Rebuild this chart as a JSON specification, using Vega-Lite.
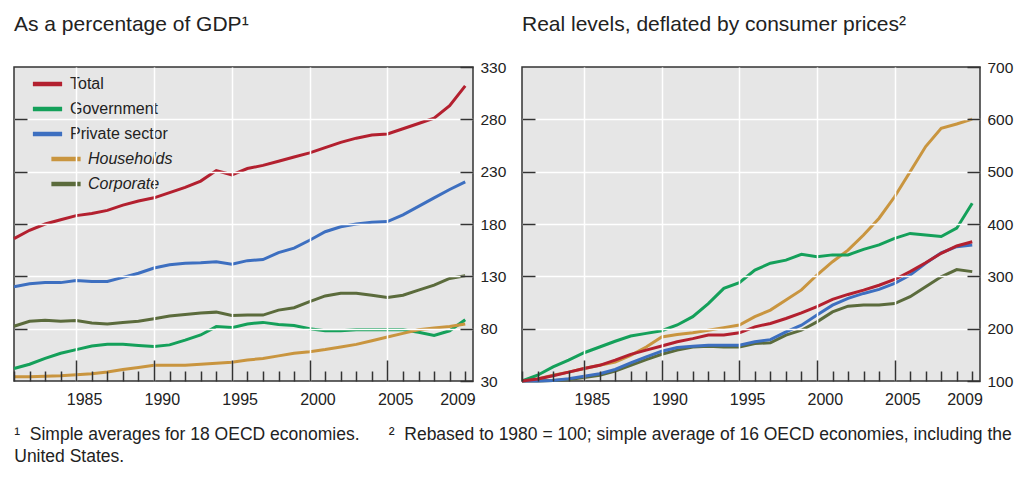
{
  "$schema": "https://vega.github.io/schema/vega-lite/v6.json",
  "padding": {"left": 7, "top": 13, "right": 4, "bottom": 4},
  "bounds": "flush",
  "spacing": 49,
  "config": {
    "font": "Liberation Sans",
    "view": {"fill": "#e6e6e6", "stroke": "#333333", "strokeWidth": 1.5},
    "axis": {"labelFont": "Liberation Sans", "labelFontSize": 15.5, "labelColor": "#222222", "domain": false, "tickColor": "#333333", "tickOpacity": 1, "tickWidth": 1.5, "gridColor": "#ffffff", "gridWidth": 1.5, "title": null},
    "title": {"font": "Liberation Sans", "fontWeight": "normal", "color": "#222222"}
  },
  "title": {
    "text": ["¹\u00a0\u00a0Simple averages for 18 OECD economies.\u00a0\u00a0\u00a0\u00a0\u00a0\u00a0²\u00a0\u00a0Rebased to 1980 = 100; simple average of 16 OECD economies, including the", "United States."],
    "orient": "bottom", "anchor": "start", "fontSize": 17.5, "lineHeight": 22, "offset": 18, "dx": 7
  },
  "resolve": {"scale": {"color": "independent"}},
  "datasets": {
    "gdp": [
      {"t":1981,"s":"Total","v":166},{"t":1982,"s":"Total","v":174},{"t":1983,"s":"Total","v":180},{"t":1984,"s":"Total","v":184},{"t":1985,"s":"Total","v":188},{"t":1986,"s":"Total","v":190},{"t":1987,"s":"Total","v":193},{"t":1988,"s":"Total","v":198},{"t":1989,"s":"Total","v":202},{"t":1990,"s":"Total","v":205},{"t":1991,"s":"Total","v":210},{"t":1992,"s":"Total","v":215},{"t":1993,"s":"Total","v":221},{"t":1994,"s":"Total","v":231},{"t":1995,"s":"Total","v":227},{"t":1996,"s":"Total","v":233},{"t":1997,"s":"Total","v":236},{"t":1998,"s":"Total","v":240},{"t":1999,"s":"Total","v":244},{"t":2000,"s":"Total","v":248},{"t":2001,"s":"Total","v":253},{"t":2002,"s":"Total","v":258},{"t":2003,"s":"Total","v":262},{"t":2004,"s":"Total","v":265},{"t":2005,"s":"Total","v":266},{"t":2006,"s":"Total","v":271},{"t":2007,"s":"Total","v":276},{"t":2008,"s":"Total","v":281},{"t":2009,"s":"Total","v":293},{"t":2010,"s":"Total","v":312},
      {"t":1981,"s":"Government","v":42},{"t":1982,"s":"Government","v":46},{"t":1983,"s":"Government","v":51.6},{"t":1984,"s":"Government","v":56.5},{"t":1985,"s":"Government","v":60},{"t":1986,"s":"Government","v":63.5},{"t":1987,"s":"Government","v":65},{"t":1988,"s":"Government","v":65},{"t":1989,"s":"Government","v":64},{"t":1990,"s":"Government","v":63},{"t":1991,"s":"Government","v":64.5},{"t":1992,"s":"Government","v":69},{"t":1993,"s":"Government","v":74},{"t":1994,"s":"Government","v":82},{"t":1995,"s":"Government","v":81},{"t":1996,"s":"Government","v":84.5},{"t":1997,"s":"Government","v":86},{"t":1998,"s":"Government","v":84},{"t":1999,"s":"Government","v":83},{"t":2000,"s":"Government","v":80},{"t":2001,"s":"Government","v":78},{"t":2002,"s":"Government","v":78},{"t":2003,"s":"Government","v":79},{"t":2004,"s":"Government","v":79},{"t":2005,"s":"Government","v":79},{"t":2006,"s":"Government","v":79},{"t":2007,"s":"Government","v":76.5},{"t":2008,"s":"Government","v":73.5},{"t":2009,"s":"Government","v":78},{"t":2010,"s":"Government","v":88.5},
      {"t":1981,"s":"Private sector","v":120},{"t":1982,"s":"Private sector","v":123},{"t":1983,"s":"Private sector","v":124},{"t":1984,"s":"Private sector","v":124},{"t":1985,"s":"Private sector","v":126},{"t":1986,"s":"Private sector","v":125},{"t":1987,"s":"Private sector","v":125},{"t":1988,"s":"Private sector","v":129},{"t":1989,"s":"Private sector","v":133},{"t":1990,"s":"Private sector","v":138},{"t":1991,"s":"Private sector","v":141},{"t":1992,"s":"Private sector","v":142.5},{"t":1993,"s":"Private sector","v":143},{"t":1994,"s":"Private sector","v":144},{"t":1995,"s":"Private sector","v":141.6},{"t":1996,"s":"Private sector","v":145},{"t":1997,"s":"Private sector","v":146},{"t":1998,"s":"Private sector","v":152.6},{"t":1999,"s":"Private sector","v":157},{"t":2000,"s":"Private sector","v":164.5},{"t":2001,"s":"Private sector","v":172.6},{"t":2002,"s":"Private sector","v":177.4},{"t":2003,"s":"Private sector","v":180},{"t":2004,"s":"Private sector","v":181.6},{"t":2005,"s":"Private sector","v":182.3},{"t":2006,"s":"Private sector","v":188.7},{"t":2007,"s":"Private sector","v":196.8},{"t":2008,"s":"Private sector","v":205},{"t":2009,"s":"Private sector","v":213},{"t":2010,"s":"Private sector","v":220.3},
      {"t":1981,"s":"Households","v":34},{"t":1982,"s":"Households","v":34},{"t":1983,"s":"Households","v":34.5},{"t":1984,"s":"Households","v":35},{"t":1985,"s":"Households","v":36},{"t":1986,"s":"Households","v":37},{"t":1987,"s":"Households","v":38.7},{"t":1988,"s":"Households","v":41},{"t":1989,"s":"Households","v":43},{"t":1990,"s":"Households","v":45},{"t":1991,"s":"Households","v":45},{"t":1992,"s":"Households","v":45},{"t":1993,"s":"Households","v":46},{"t":1994,"s":"Households","v":47},{"t":1995,"s":"Households","v":48},{"t":1996,"s":"Households","v":50},{"t":1997,"s":"Households","v":51.6},{"t":1998,"s":"Households","v":54},{"t":1999,"s":"Households","v":56.5},{"t":2000,"s":"Households","v":58},{"t":2001,"s":"Households","v":60},{"t":2002,"s":"Households","v":62.5},{"t":2003,"s":"Households","v":65},{"t":2004,"s":"Households","v":68.5},{"t":2005,"s":"Households","v":72},{"t":2006,"s":"Households","v":75.5},{"t":2007,"s":"Households","v":79},{"t":2008,"s":"Households","v":80.6},{"t":2009,"s":"Households","v":82},{"t":2010,"s":"Households","v":84.5},
      {"t":1981,"s":"Corporate","v":82.3},{"t":1982,"s":"Corporate","v":87},{"t":1983,"s":"Corporate","v":88},{"t":1984,"s":"Corporate","v":87},{"t":1985,"s":"Corporate","v":87.7},{"t":1986,"s":"Corporate","v":85.5},{"t":1987,"s":"Corporate","v":84.5},{"t":1988,"s":"Corporate","v":86},{"t":1989,"s":"Corporate","v":87},{"t":1990,"s":"Corporate","v":89.4},{"t":1991,"s":"Corporate","v":92},{"t":1992,"s":"Corporate","v":93.5},{"t":1993,"s":"Corporate","v":95},{"t":1994,"s":"Corporate","v":95.8},{"t":1995,"s":"Corporate","v":92.6},{"t":1996,"s":"Corporate","v":93},{"t":1997,"s":"Corporate","v":93},{"t":1998,"s":"Corporate","v":97.7},{"t":1999,"s":"Corporate","v":100},{"t":2000,"s":"Corporate","v":105.8},{"t":2001,"s":"Corporate","v":111.3},{"t":2002,"s":"Corporate","v":113.9},{"t":2003,"s":"Corporate","v":113.9},{"t":2004,"s":"Corporate","v":112},{"t":2005,"s":"Corporate","v":109.7},{"t":2006,"s":"Corporate","v":112},{"t":2007,"s":"Corporate","v":116.8},{"t":2008,"s":"Corporate","v":121.6},{"t":2009,"s":"Corporate","v":128},{"t":2010,"s":"Corporate","v":130.6}
    ],
    "real": [
      {"t":1981,"s":"Corporate","v":100},{"t":1982,"s":"Corporate","v":100},{"t":1983,"s":"Corporate","v":101},{"t":1984,"s":"Corporate","v":103},{"t":1985,"s":"Corporate","v":106.5},{"t":1986,"s":"Corporate","v":111},{"t":1987,"s":"Corporate","v":119},{"t":1988,"s":"Corporate","v":130},{"t":1989,"s":"Corporate","v":141},{"t":1990,"s":"Corporate","v":151},{"t":1991,"s":"Corporate","v":159},{"t":1992,"s":"Corporate","v":165},{"t":1993,"s":"Corporate","v":166.5},{"t":1994,"s":"Corporate","v":165},{"t":1995,"s":"Corporate","v":165},{"t":1996,"s":"Corporate","v":171.6},{"t":1997,"s":"Corporate","v":173},{"t":1998,"s":"Corporate","v":187.6},{"t":1999,"s":"Corporate","v":197},{"t":2000,"s":"Corporate","v":213},{"t":2001,"s":"Corporate","v":232},{"t":2002,"s":"Corporate","v":243},{"t":2003,"s":"Corporate","v":245},{"t":2004,"s":"Corporate","v":245},{"t":2005,"s":"Corporate","v":248},{"t":2006,"s":"Corporate","v":261},{"t":2007,"s":"Corporate","v":280},{"t":2008,"s":"Corporate","v":299},{"t":2009,"s":"Corporate","v":313},{"t":2010,"s":"Corporate","v":309},
      {"t":1981,"s":"Households","v":100},{"t":1982,"s":"Households","v":104},{"t":1983,"s":"Households","v":111},{"t":1984,"s":"Households","v":117},{"t":1985,"s":"Households","v":124},{"t":1986,"s":"Households","v":130},{"t":1987,"s":"Households","v":136},{"t":1988,"s":"Households","v":149},{"t":1989,"s":"Households","v":165},{"t":1990,"s":"Households","v":184},{"t":1991,"s":"Households","v":189},{"t":1992,"s":"Households","v":192},{"t":1993,"s":"Households","v":197},{"t":1994,"s":"Households","v":202},{"t":1995,"s":"Households","v":207},{"t":1996,"s":"Households","v":223},{"t":1997,"s":"Households","v":235.5},{"t":1998,"s":"Households","v":255},{"t":1999,"s":"Households","v":274},{"t":2000,"s":"Households","v":302.5},{"t":2001,"s":"Households","v":328},{"t":2002,"s":"Households","v":350},{"t":2003,"s":"Households","v":379},{"t":2004,"s":"Households","v":411},{"t":2005,"s":"Households","v":452},{"t":2006,"s":"Households","v":500},{"t":2007,"s":"Households","v":548},{"t":2008,"s":"Households","v":583},{"t":2009,"s":"Households","v":591},{"t":2010,"s":"Households","v":600.5},
      {"t":1981,"s":"Private sector","v":100},{"t":1982,"s":"Private sector","v":100},{"t":1983,"s":"Private sector","v":101},{"t":1984,"s":"Private sector","v":104.5},{"t":1985,"s":"Private sector","v":109},{"t":1986,"s":"Private sector","v":114},{"t":1987,"s":"Private sector","v":122},{"t":1988,"s":"Private sector","v":134.5},{"t":1989,"s":"Private sector","v":146},{"t":1990,"s":"Private sector","v":157},{"t":1991,"s":"Private sector","v":164},{"t":1992,"s":"Private sector","v":166.5},{"t":1993,"s":"Private sector","v":168.4},{"t":1994,"s":"Private sector","v":168.4},{"t":1995,"s":"Private sector","v":168.4},{"t":1996,"s":"Private sector","v":175},{"t":1997,"s":"Private sector","v":179},{"t":1998,"s":"Private sector","v":194},{"t":1999,"s":"Private sector","v":206.7},{"t":2000,"s":"Private sector","v":226},{"t":2001,"s":"Private sector","v":245},{"t":2002,"s":"Private sector","v":257.8},{"t":2003,"s":"Private sector","v":267.3},{"t":2004,"s":"Private sector","v":275},{"t":2005,"s":"Private sector","v":286.5},{"t":2006,"s":"Private sector","v":302.4},{"t":2007,"s":"Private sector","v":325},{"t":2008,"s":"Private sector","v":345},{"t":2009,"s":"Private sector","v":356.7},{"t":2010,"s":"Private sector","v":360},
      {"t":1981,"s":"Government","v":100},{"t":1982,"s":"Government","v":111},{"t":1983,"s":"Government","v":127},{"t":1984,"s":"Government","v":140},{"t":1985,"s":"Government","v":154},{"t":1986,"s":"Government","v":165},{"t":1987,"s":"Government","v":176},{"t":1988,"s":"Government","v":186},{"t":1989,"s":"Government","v":191},{"t":1990,"s":"Government","v":196},{"t":1991,"s":"Government","v":207},{"t":1992,"s":"Government","v":223},{"t":1993,"s":"Government","v":248},{"t":1994,"s":"Government","v":277},{"t":1995,"s":"Government","v":288},{"t":1996,"s":"Government","v":312},{"t":1997,"s":"Government","v":325},{"t":1998,"s":"Government","v":331},{"t":1999,"s":"Government","v":342},{"t":2000,"s":"Government","v":337.5},{"t":2001,"s":"Government","v":341},{"t":2002,"s":"Government","v":341},{"t":2003,"s":"Government","v":351.5},{"t":2004,"s":"Government","v":360},{"t":2005,"s":"Government","v":372.6},{"t":2006,"s":"Government","v":382},{"t":2007,"s":"Government","v":379},{"t":2008,"s":"Government","v":376},{"t":2009,"s":"Government","v":392},{"t":2010,"s":"Government","v":439.6},
      {"t":1981,"s":"Total","v":100},{"t":1982,"s":"Total","v":104},{"t":1983,"s":"Total","v":110},{"t":1984,"s":"Total","v":117},{"t":1985,"s":"Total","v":124},{"t":1986,"s":"Total","v":130},{"t":1987,"s":"Total","v":140},{"t":1988,"s":"Total","v":151},{"t":1989,"s":"Total","v":159},{"t":1990,"s":"Total","v":167},{"t":1991,"s":"Total","v":175},{"t":1992,"s":"Total","v":181},{"t":1993,"s":"Total","v":188},{"t":1994,"s":"Total","v":188},{"t":1995,"s":"Total","v":192},{"t":1996,"s":"Total","v":203.5},{"t":1997,"s":"Total","v":210},{"t":1998,"s":"Total","v":219.5},{"t":1999,"s":"Total","v":230},{"t":2000,"s":"Total","v":242},{"t":2001,"s":"Total","v":256},{"t":2002,"s":"Total","v":265.4},{"t":2003,"s":"Total","v":273.7},{"t":2004,"s":"Total","v":283},{"t":2005,"s":"Total","v":294},{"t":2006,"s":"Total","v":309},{"t":2007,"s":"Total","v":326},{"t":2008,"s":"Total","v":344},{"t":2009,"s":"Total","v":358},{"t":2010,"s":"Total","v":366}
    ]
  },
  "hconcat": [
    {
      "width": 459, "height": 314,
      "title": {"text": "As a percentage of GDP¹", "anchor": "start", "frame": "group", "fontSize": 21, "offset": 25},
      "data": {"name": "gdp"},
      "layer": [
        {
          "mark": {"type": "line", "strokeWidth": 3},
          "encoding": {
            "x": {"field": "t", "type": "quantitative", "scale": {"domain": [1981, 2010.5], "nice": false, "zero": false},
                  "axis": {"orient": "bottom", "zindex": 1, "values": [1981, 1982, 1983, 1984, 1985, 1986, 1987, 1988, 1989, 1990, 1991, 1992, 1993, 1994, 1995, 1996, 1997, 1998, 1999, 2000, 2001, 2002, 2003, 2004, 2005, 2006, 2007, 2008, 2009, 2010],
                           "labelExpr": "indexof([1985, 1990, 1995, 2000, 2005, 2009], datum.value) >= 0 ? '' + datum.value : ''",
                           "labelOffset": 7.8, "labelFontSize": 16, "labelOverlap": false, "labelFlush": false, "labelBound": false,
                           "tickSize": {"condition": {"test": "datum.value % 5 === 0 && datum.value < 2010", "value": -21}, "value": -10},
                           "labelPadding": {"condition": {"test": "datum.value % 5 === 0 && datum.value < 2010", "value": 31}, "value": 20},
                           "grid": true,
                           "gridOpacity": {"condition": {"test": "datum.value % 5 === 0 && datum.value < 2010", "value": 1}, "value": 0}}},
            "y": {"field": "v", "type": "quantitative", "scale": {"domain": [30, 330], "nice": false, "zero": false},
                  "axis": {"orient": "right", "zindex": 1, "values": [30, 80, 130, 180, 230, 280, 330], "tickSize": -13, "labelPadding": 20, "labelFlush": false, "labelOverlap": false,
                           "grid": true, "gridOpacity": {"condition": {"test": "datum.value > 30 && datum.value < 330", "value": 1}, "value": 0}}},
            "color": {"field": "s", "type": "nominal",
                      "scale": {"domain": ["Total", "Government", "Private sector", "Households", "Corporate"], "range": ["#b3202f", "#14a05a", "#3d6fc0", "#c9953f", "#5b6b3c"]},
                      "legend": {"orient": "none", "legendX": 19, "legendY": 5, "title": null, "labelFontSize": 16, "labelColor": "#222222", "symbolType": "M-1.5,0H1.5", "symbolSize": 380, "symbolStrokeWidth": 4.5, "rowPadding": 4, "padding": 0, "labelOffset": 8,
                                 "encode": {
                                   "symbols": {"update": {"x": {"signal": "indexof(['Households','Corporate'], datum.label) >= 0 ? 33 : 14.5"}}},
                                   "labels": {"update": {"x": {"signal": "indexof(['Households','Corporate'], datum.label) >= 0 ? 55 : 37"}, "fontStyle": {"signal": "indexof(['Households','Corporate'], datum.label) >= 0 ? 'italic' : 'normal'"}}}
                                 }}}
          }
        },
        {
          "mark": {"type": "line", "opacity": 0, "strokeWidth": 1},
          "encoding": {
            "x": {"field": "t", "type": "quantitative", "axis": null},
            "y": {"field": "v", "type": "quantitative", "axis": {"orient": "left", "zindex": 1, "values": [80, 130, 180, 230, 280], "labels": false, "grid": false, "tickSize": -13}},
            "detail": {"field": "s"}
          }
        }
      ],
      "resolve": {"axis": {"x": "independent", "y": "independent"}}
    },
    {
      "width": 458, "height": 314,
      "title": {"text": "Real levels, deflated by consumer prices²", "anchor": "start", "frame": "group", "fontSize": 21, "offset": 25},
      "data": {"name": "real"},
      "layer": [
        {
          "mark": {"type": "line", "strokeWidth": 3},
          "encoding": {
            "x": {"field": "t", "type": "quantitative", "scale": {"domain": [1981, 2010.5], "nice": false, "zero": false},
                  "axis": {"orient": "bottom", "zindex": 1, "values": [1981, 1982, 1983, 1984, 1985, 1986, 1987, 1988, 1989, 1990, 1991, 1992, 1993, 1994, 1995, 1996, 1997, 1998, 1999, 2000, 2001, 2002, 2003, 2004, 2005, 2006, 2007, 2008, 2009, 2010],
                           "labelExpr": "indexof([1985, 1990, 1995, 2000, 2005, 2009], datum.value) >= 0 ? '' + datum.value : ''",
                           "labelOffset": 7.8, "labelFontSize": 16, "labelOverlap": false, "labelFlush": false, "labelBound": false,
                           "tickSize": {"condition": {"test": "datum.value % 5 === 0 && datum.value < 2010", "value": -21}, "value": -10},
                           "labelPadding": {"condition": {"test": "datum.value % 5 === 0 && datum.value < 2010", "value": 31}, "value": 20},
                           "grid": true,
                           "gridOpacity": {"condition": {"test": "datum.value % 5 === 0 && datum.value < 2010", "value": 1}, "value": 0}}},
            "y": {"field": "v", "type": "quantitative", "scale": {"domain": [100, 700], "nice": false, "zero": false},
                  "axis": {"orient": "right", "zindex": 1, "values": [100, 200, 300, 400, 500, 600, 700], "tickSize": -13, "labelPadding": 20, "labelFlush": false, "labelOverlap": false,
                           "grid": true, "gridOpacity": {"condition": {"test": "datum.value > 100 && datum.value < 700", "value": 1}, "value": 0}}},
            "color": {"field": "s", "type": "nominal",
                      "scale": {"domain": ["Total", "Government", "Private sector", "Households", "Corporate"], "range": ["#b3202f", "#14a05a", "#3d6fc0", "#c9953f", "#5b6b3c"]},
                      "legend": null}
          }
        },
        {
          "mark": {"type": "line", "opacity": 0, "strokeWidth": 1},
          "encoding": {
            "x": {"field": "t", "type": "quantitative", "axis": null},
            "y": {"field": "v", "type": "quantitative", "axis": {"orient": "left", "zindex": 1, "values": [200, 300, 400, 500, 600], "labels": false, "grid": false, "tickSize": -13}},
            "detail": {"field": "s"}
          }
        }
      ],
      "resolve": {"axis": {"x": "independent", "y": "independent"}}
    }
  ]
}
